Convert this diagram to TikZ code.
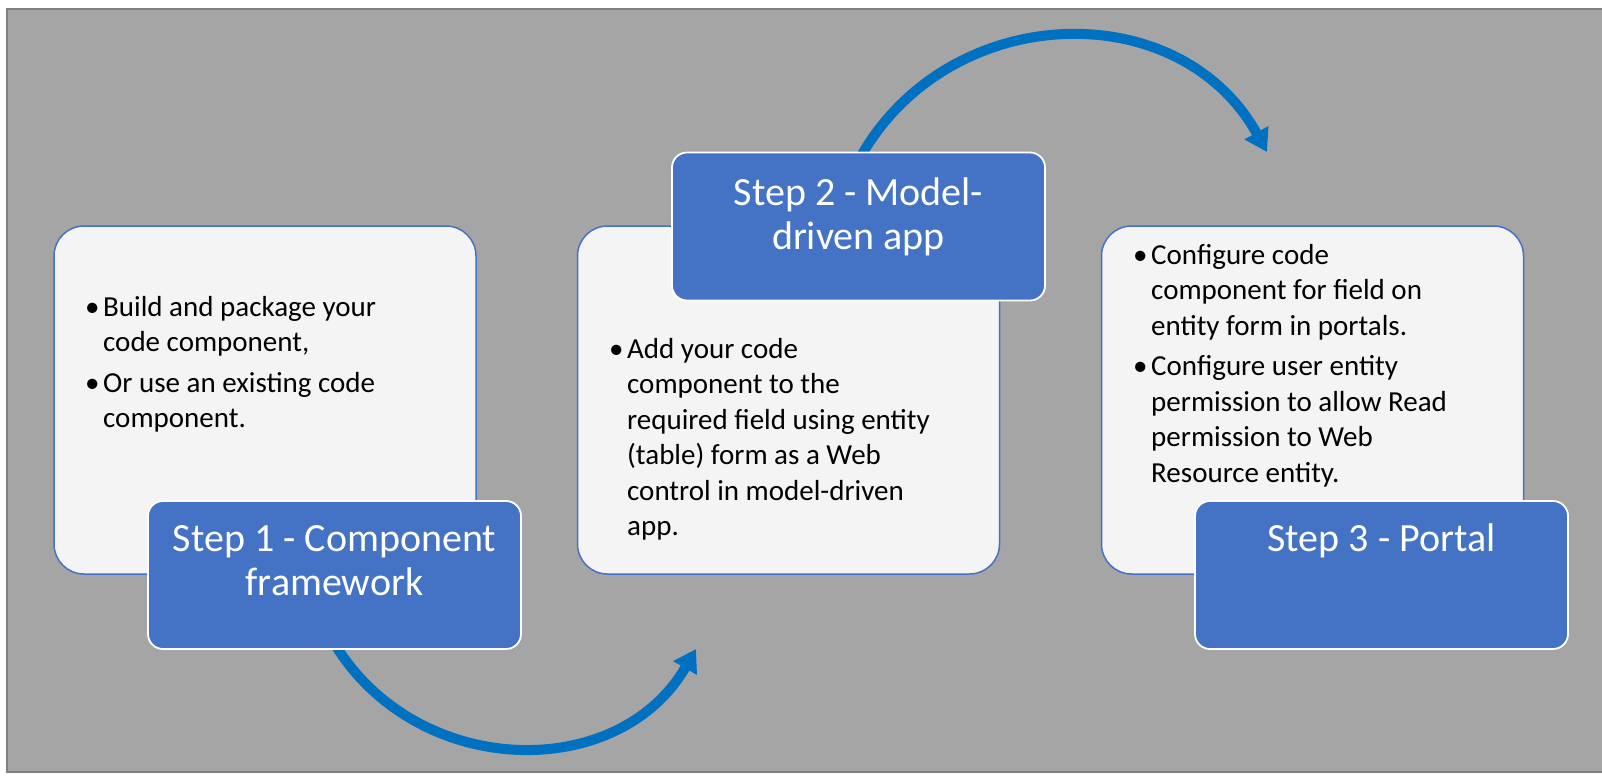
\documentclass[tikz,border=0pt]{standalone}
\usepackage{fontspec}
\setmainfont{Carlito}
\usetikzlibrary{arrows.meta,calc}
\definecolor{bgg}{HTML}{A5A5A5}
\definecolor{bgb}{HTML}{808080}
\definecolor{stepblue}{HTML}{4472C4}
\definecolor{lightf}{HTML}{F4F4F4}
\definecolor{arrowblue}{HTML}{0070C0}
\newcommand\bulletline[1]{\hbox{\makebox[18pt][l]{\textbullet}#1}}
\newcommand\contline[1]{\hbox{\hspace*{18pt}#1}}
\begin{document}
\begin{tikzpicture}[x=1pt,y=-1pt,
 panel/.style={draw=stepblue, line width=1.5pt, fill=lightf, rounded corners=30pt, minimum width=422pt, minimum height=348pt, inner sep=0pt},
 stepbox/.style={draw=white, line width=1.8pt, fill=stepblue, rounded corners=15pt, minimum width=373pt, minimum height=148pt, inner sep=0pt},
 steptext/.style={text=white, font=\fontsize{40}{44}\selectfont, anchor=base, inner sep=0pt},
 bodytext/.style={text=black, font=\fontsize{29}{35.5}\selectfont, anchor=base west, inner sep=0pt},
 flow/.style={draw=arrowblue, line width=10pt, -{Triangle[width=26pt,length=22pt]}}
]
\useasboundingbox (0,0) rectangle (1602,779);
\fill[white] (0,0) rectangle (1602,779);
\draw[bgb, line width=2pt, fill=bgg] (7,9) rectangle (1612,772);

% content panels
\node[panel] (p1) at (265,400) {};
\node[panel] (p2) at (788.5,400) {};
\node[panel] (p3) at (1312.5,400) {};

% step boxes (placed first for connector anchors, drawn on top later)
\path (334.5,575) coordinate (c1) (858.5,226.5) coordinate (c2) (1381.5,575) coordinate (c3);
\coordinate (tip1) at (696,649);
\coordinate (tip2) at (1267,152);

\draw[flow] ($(c1)+(-1,67)$) .. controls (415,779) and (618,784) .. (tip1);
\draw[flow] ($(c2)+(0,-66)$) .. controls (946,0) and (1179,-7) .. (tip2);

\node[stepbox] (s1) at (c1) {};
\node[stepbox] (s2) at (c2) {};
\node[stepbox] (s3) at (c3) {};

\node[steptext] (s1t) at (334.5,551) {\begin{tabular}[t]{@{}c@{}}Step 1 - Component\\ framework\end{tabular}};
\node[steptext] (s2t) at (858.5,205) {\begin{tabular}[t]{@{}c@{}}Step 2 - Model-\\ driven app\end{tabular}};
\node[steptext] (s3t) at (1381.5,551) {Step 3 - Portal};

\node[bodytext] (t1) at (85,316) {\vtop{\bulletline{Build and package your}\contline{code component,}\vskip5pt\bulletline{Or use an existing code}\contline{component.}}};
\node[bodytext] (t2) at (609,358) {\vtop{\bulletline{Add your code}\contline{component to the}\contline{required field using entity}\contline{(table) form as a Web}\contline{control in model-driven}\contline{app.}}};
\node[bodytext] (t3) at (1133,264) {\vtop{\bulletline{Configure code}\contline{component for field on}\contline{entity form in portals.}\vskip5pt\bulletline{Configure user entity}\contline{permission to allow Read}\contline{permission to Web}\contline{Resource entity.}}};
\end{tikzpicture}
\end{document}
